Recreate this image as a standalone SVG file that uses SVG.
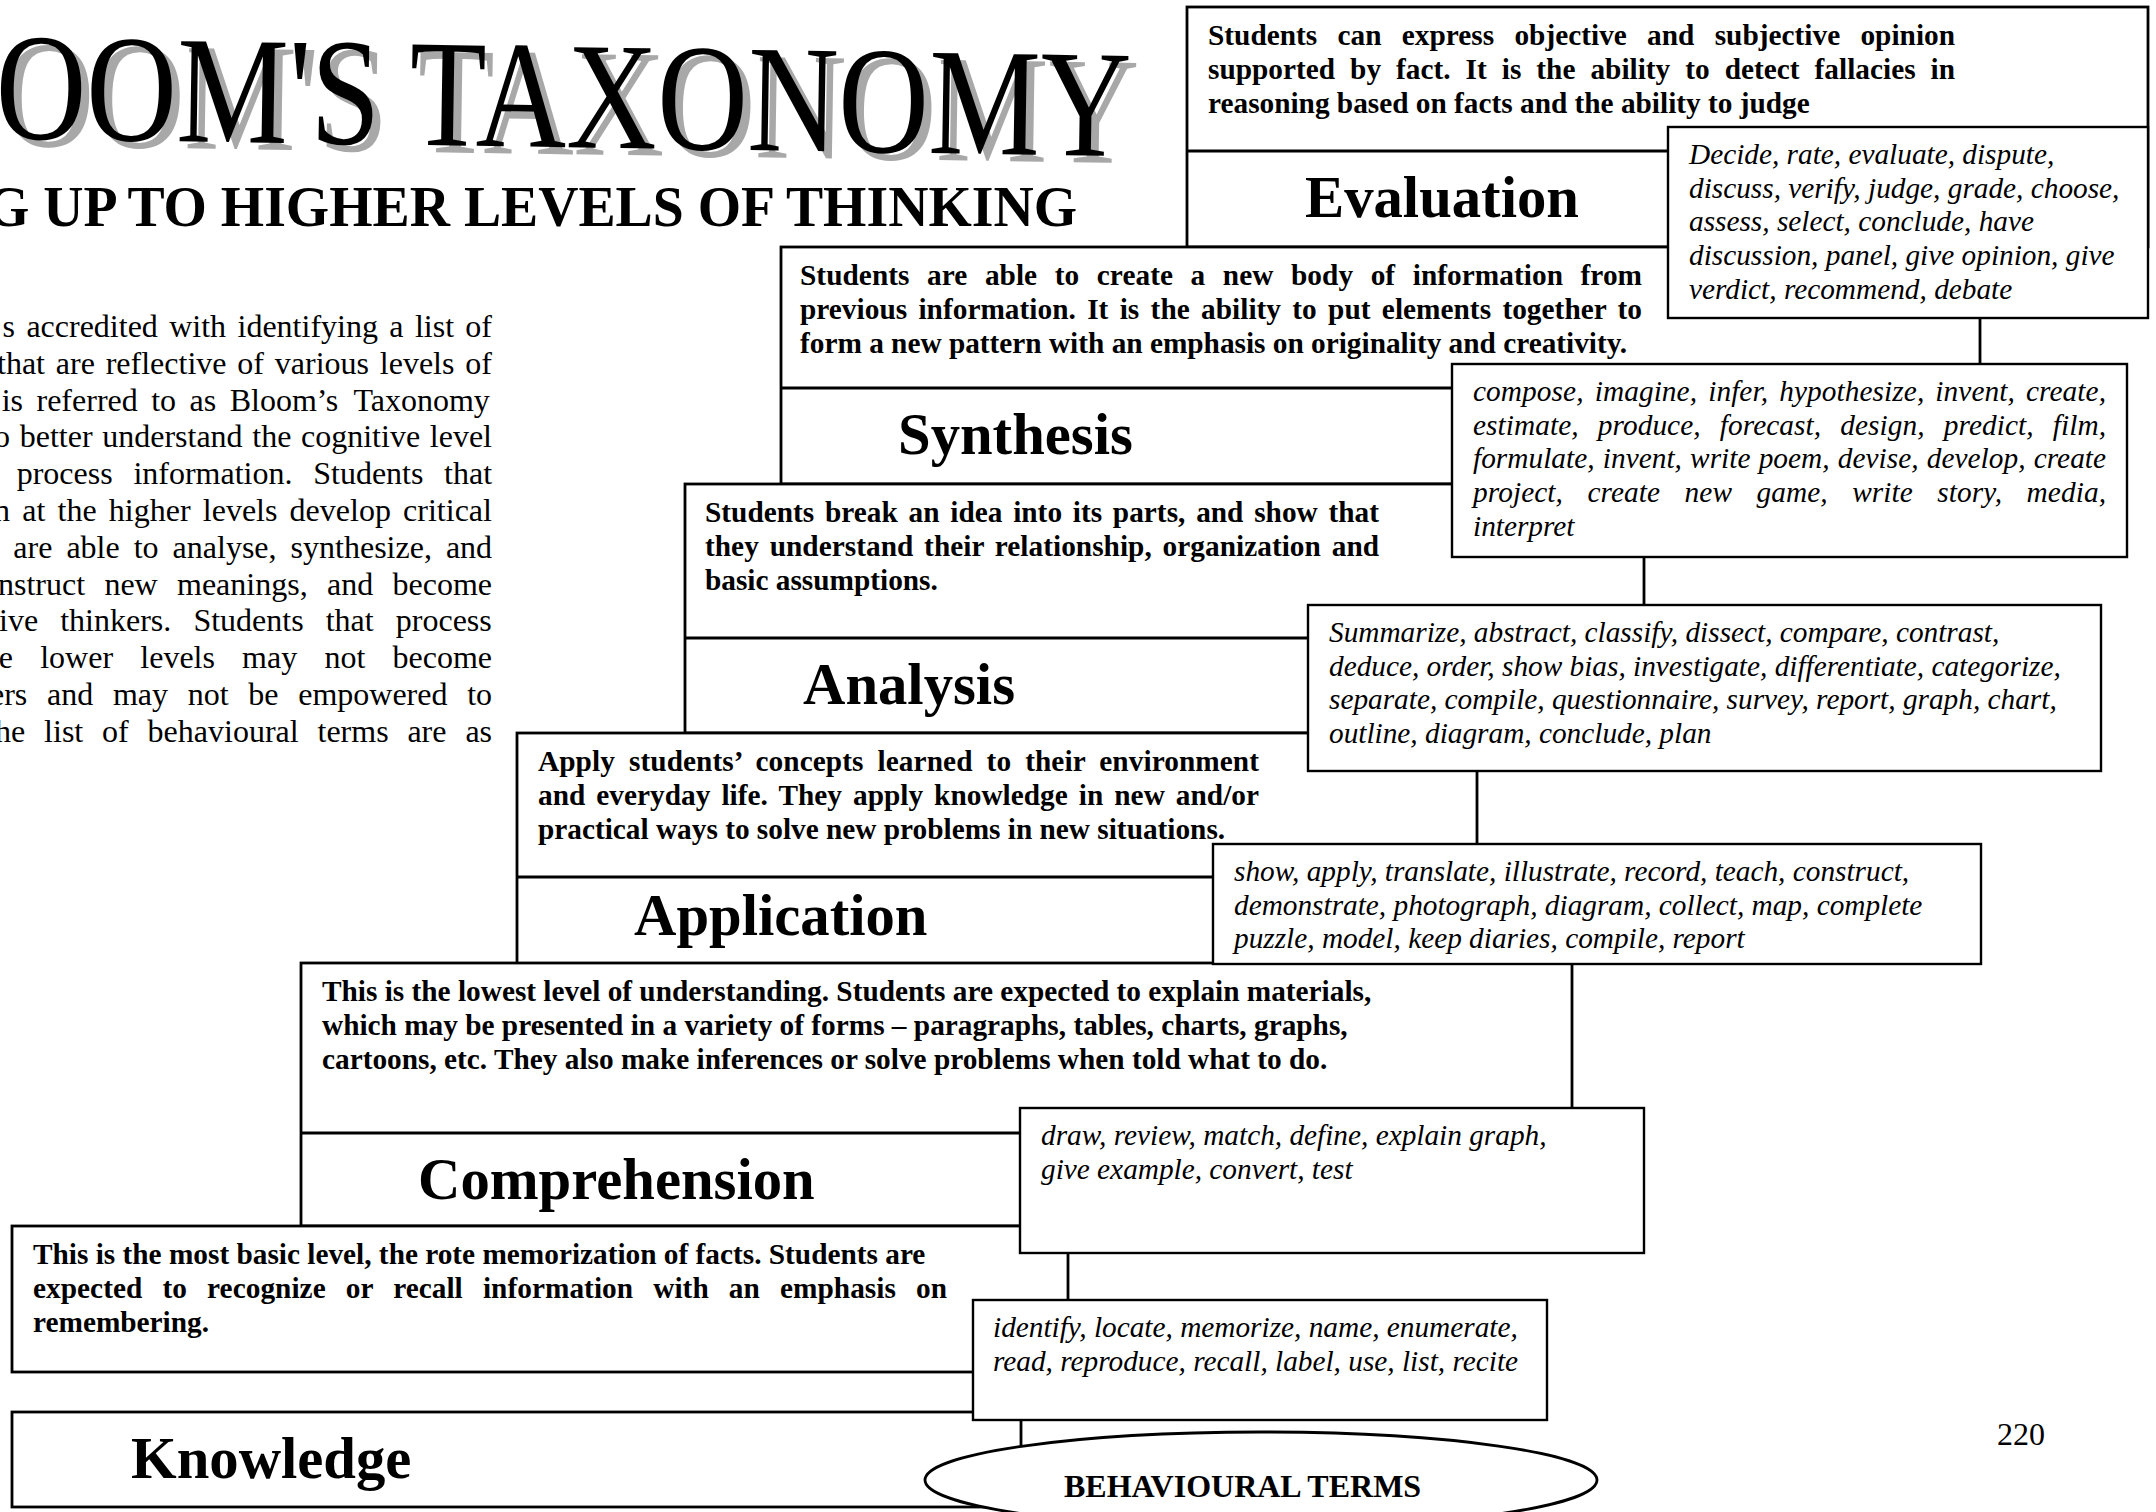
<svg xmlns="http://www.w3.org/2000/svg" width="2156" height="1512" viewBox="0 0 2156 1512">
<style>
text { font-family: "Liberation Serif", "Times New Roman", serif; fill: #000; }
.box { fill: #fff; stroke: #000; stroke-width: 2.8; }
.vbox { fill: #fff; stroke: #000; stroke-width: 2.4; }
.div { stroke: #000; stroke-width: 2.8; }
.conn { stroke: #000; stroke-width: 2; fill: none; }
.desc { font-weight: bold; font-size: 29.3px; }
.lbl { font-weight: bold; font-size: 58.7px; }
.verb { font-style: italic; font-size: 29.3px; }
.intro { font-size: 32px; }
.wa { font-size: 153px; }
.wash { fill: #a8a8a8; }
.sub { font-weight: bold; font-size: 56px; }
.oval { font-weight: bold; font-size: 32px; }
.pg { font-size: 32px; }
</style>

<g id="title">
  <g transform="rotate(0.9 550 145)">
    <text class="wa wash" x="3" y="154" textLength="1135" lengthAdjust="spacingAndGlyphs">OOM'S TAXONOMY</text>
    <text class="wa" x="-5" y="147" textLength="1135" lengthAdjust="spacingAndGlyphs">OOM'S TAXONOMY</text>
  </g>
  <text class="sub" x="-14" y="226" textLength="1091" lengthAdjust="spacingAndGlyphs">G UP TO HIGHER LEVELS OF THINKING</text>
</g>

<g id="intro" class="intro">
  <text y="337"><tspan x="2.6">s</tspan> <tspan x="26.4">accredited</tspan> <tspan x="169.2">with</tspan> <tspan x="237.5">identifying</tspan> <tspan x="389.3">a</tspan> <tspan x="414.9">list</tspan> <tspan x="465.3">of</tspan></text>
  <text y="374"><tspan x="-3">that</tspan> <tspan x="55.8">are</tspan> <tspan x="105.7">reflective</tspan> <tspan x="237.3">of</tspan> <tspan x="274.8">various</tspan> <tspan x="379.8">levels</tspan> <tspan x="465.2">of</tspan></text>
  <text y="411"><tspan x="1.7">is</tspan> <tspan x="36.5">referred</tspan> <tspan x="151.2">to</tspan> <tspan x="189.6">as</tspan> <tspan x="229.7">Bloom’s</tspan> <tspan x="353.4">Taxonomy</tspan></text>
  <text y="447"><tspan x="-6">o</tspan> <tspan x="19.7">better</tspan> <tspan x="102.2">understand</tspan> <tspan x="252.3">the</tspan> <tspan x="301">cognitive</tspan> <tspan x="429.8">level</tspan></text>
  <text y="484"><tspan x="16.7">process</tspan> <tspan x="133.4">information.</tspan> <tspan x="313.2">Students</tspan> <tspan x="444.1">that</tspan></text>
  <text y="521"><tspan x="-6">n</tspan> <tspan x="22.2">at</tspan> <tspan x="57.5">the</tspan> <tspan x="108.8">higher</tspan> <tspan x="202.8">levels</tspan> <tspan x="289.6">develop</tspan> <tspan x="403.1">critical</tspan></text>
  <text y="558"><tspan x="13.3">are</tspan> <tspan x="66.4">able</tspan> <tspan x="133.7">to</tspan> <tspan x="172.6">analyse,</tspan> <tspan x="290.6">synthesize,</tspan> <tspan x="445.9">and</tspan></text>
  <text y="595"><tspan x="-2">nstruct</tspan> <tspan x="104.4">new</tspan> <tspan x="177">meanings,</tspan> <tspan x="327">and</tspan> <tspan x="392.5">become</tspan></text>
  <text y="631"><tspan x="-1">ive</tspan> <tspan x="60.2">thinkers.</tspan> <tspan x="193.4">Students</tspan> <tspan x="325.7">that</tspan> <tspan x="395.8">process</tspan></text>
  <text y="668"><tspan x="-1.2">e</tspan> <tspan x="40.2">lower</tspan> <tspan x="140.3">levels</tspan> <tspan x="242.1">may</tspan> <tspan x="324.4">not</tspan> <tspan x="392.5">become</tspan></text>
  <text y="705"><tspan x="-10">ers</tspan> <tspan x="47">and</tspan> <tspan x="112.9">may</tspan> <tspan x="187.7">not</tspan> <tspan x="248.3">be</tspan> <tspan x="298.2">empowered</tspan> <tspan x="467.2">to</tspan></text>
  <text y="742"><tspan x="-5">he</tspan> <tspan x="44.1">list</tspan> <tspan x="102">of</tspan> <tspan x="147.6">behavioural</tspan> <tspan x="317.5">terms</tspan> <tspan x="407.4">are</tspan> <tspan x="465.4">as</tspan></text>
</g>

<g id="evaluation">
  <rect class="box" x="1187" y="7" width="961" height="240"/>
  <line class="div" x1="1187" y1="151" x2="2148" y2="151"/>
  <text class="desc" x="1208" y="45" style="word-spacing:12.9px" textLength="747" lengthAdjust="spacing">Students can express objective and subjective opinion</text>
  <text class="desc" x="1208" y="79" style="word-spacing:7.65px" textLength="747" lengthAdjust="spacing">supported by fact. It is the ability to detect fallacies in</text>
  <text class="desc" x="1208" y="113">reasoning based on facts and the ability to judge</text>
  <text class="lbl" x="1305" y="217">Evaluation</text>
</g>

<g id="synthesis">
  <rect class="box" x="781" y="247" width="1199" height="237"/>
  <line class="div" x1="781" y1="388" x2="1980" y2="388"/>
  <text class="desc" x="800" y="285" style="word-spacing:10.2px" textLength="842" lengthAdjust="spacing">Students are able to create a new body of information from</text>
  <text class="desc" x="800" y="319" style="word-spacing:3.96px" textLength="842" lengthAdjust="spacing">previous information. It is the ability to put elements together to</text>
  <text class="desc" x="800" y="353">form a new pattern with an emphasis on originality and creativity.</text>
  <text class="lbl" x="898" y="454">Synthesis</text>
</g>

<g id="analysis">
  <rect class="box" x="685" y="484" width="959" height="249"/>
  <line class="div" x1="685" y1="638" x2="1644" y2="638"/>
  <text class="desc" x="705" y="522" style="word-spacing:3.37px" textLength="674" lengthAdjust="spacing">Students break an idea into its parts, and show that</text>
  <text class="desc" x="705" y="556" style="word-spacing:3.45px" textLength="674" lengthAdjust="spacing">they understand their relationship, organization and</text>
  <text class="desc" x="705" y="590">basic assumptions.</text>
  <text class="lbl" x="803" y="704">Analysis</text>
</g>

<g id="application">
  <rect class="box" x="517" y="733" width="960" height="231"/>
  <line class="div" x1="517" y1="877" x2="1477" y2="877"/>
  <text class="desc" x="538" y="771" style="word-spacing:6.65px" textLength="721" lengthAdjust="spacing">Apply students’ concepts learned to their environment</text>
  <text class="desc" x="538" y="805" style="word-spacing:3.66px" textLength="721" lengthAdjust="spacing">and everyday life. They apply knowledge in new and/or</text>
  <text class="desc" x="538" y="839">practical ways to solve new problems in new situations.</text>
  <text class="lbl" x="634" y="935">Application</text>
</g>

<g id="comprehension">
  <rect class="box" x="301" y="963" width="1271" height="263"/>
  <line class="div" x1="301" y1="1133" x2="1572" y2="1133"/>
  <text class="desc" x="322" y="1001">This is the lowest level of understanding. Students are expected to explain materials,</text>
  <text class="desc" x="322" y="1035">which may be presented in a variety of forms – paragraphs, tables, charts, graphs,</text>
  <text class="desc" x="322" y="1069">cartoons, etc. They also make inferences or solve problems when told what to do.</text>
  <text class="lbl" x="418" y="1199">Comprehension</text>
</g>

<g id="knowledge">
  <rect class="box" x="12" y="1226" width="1056" height="146"/>
  <text class="desc" x="33" y="1264">This is the most basic level, the rote memorization of facts. Students are</text>
  <text class="desc" x="33" y="1298" style="word-spacing:12.76px" textLength="914" lengthAdjust="spacing">expected to recognize or recall information with an emphasis on</text>
  <text class="desc" x="33" y="1332">remembering.</text>
  <rect class="box" x="12" y="1412" width="1009" height="95"/>
  <text class="lbl" x="131" y="1478">Knowledge</text>
</g>

<g id="connectors">
  <line class="conn" x1="1980" y1="318" x2="1980" y2="364"/>
  <line class="conn" x1="1644" y1="557" x2="1644" y2="605"/>
  <line class="conn" x1="1477" y1="771" x2="1477" y2="844"/>
  <line class="conn" x1="1572" y1="963" x2="1572" y2="1108"/>
  <line class="conn" x1="1068" y1="1253" x2="1068" y2="1300"/>
  <line class="conn" x1="1021" y1="1420" x2="1021" y2="1447"/>
</g>

<g id="evaluation-terms">
  <rect class="vbox" x="1668" y="127" width="480" height="191"/>
  <text class="verb" x="1689" y="164">Decide, rate, evaluate, dispute,</text>
  <text class="verb" x="1689" y="197.5">discuss, verify, judge, grade, choose,</text>
  <text class="verb" x="1689" y="231">assess, select, conclude, have</text>
  <text class="verb" x="1689" y="265">discussion, panel, give opinion, give</text>
  <text class="verb" x="1689" y="298.5">verdict, recommend, debate</text>
</g>

<g id="synthesis-terms">
  <rect class="vbox" x="1452" y="364" width="675" height="193"/>
  <text class="verb" x="1473" y="401" style="word-spacing:3.59px" textLength="633" lengthAdjust="spacing">compose, imagine, infer, hypothesize, invent, create,</text>
  <text class="verb" x="1473" y="435" style="word-spacing:11.73px" textLength="633" lengthAdjust="spacing">estimate, produce, forecast, design, predict, film,</text>
  <text class="verb" x="1473" y="468" style="word-spacing:0.82px" textLength="633" lengthAdjust="spacing">formulate, invent, write poem, devise, develop, create</text>
  <text class="verb" x="1473" y="502" style="word-spacing:17px" textLength="633" lengthAdjust="spacing">project, create new game, write story, media,</text>
  <text class="verb" x="1473" y="536">interpret</text>
</g>

<g id="analysis-terms">
  <rect class="vbox" x="1308" y="605" width="793" height="166"/>
  <text class="verb" x="1329" y="642">Summarize, abstract, classify, dissect, compare, contrast,</text>
  <text class="verb" x="1329" y="676">deduce, order, show bias, investigate, differentiate, categorize,</text>
  <text class="verb" x="1329" y="709">separate, compile, questionnaire, survey, report, graph, chart,</text>
  <text class="verb" x="1329" y="743">outline, diagram, conclude, plan</text>
</g>

<g id="application-terms">
  <rect class="vbox" x="1213" y="844" width="768" height="120"/>
  <text class="verb" x="1234" y="881">show, apply, translate, illustrate, record, teach, construct,</text>
  <text class="verb" x="1234" y="915">demonstrate, photograph, diagram, collect, map, complete</text>
  <text class="verb" x="1234" y="948">puzzle, model, keep diaries, compile, report</text>
</g>

<g id="comprehension-terms">
  <rect class="vbox" x="1020" y="1108" width="624" height="145"/>
  <text class="verb" x="1041" y="1145">draw, review, match, define, explain graph,</text>
  <text class="verb" x="1041" y="1179">give example, convert, test</text>
</g>

<g id="knowledge-terms">
  <rect class="vbox" x="973" y="1300" width="574" height="120"/>
  <text class="verb" x="993" y="1337">identify, locate, memorize, name, enumerate,</text>
  <text class="verb" x="993" y="1371">read, reproduce, recall, label, use, list, recite</text>
</g>

<g id="behavioural-terms">
  <ellipse class="box" cx="1261" cy="1480" rx="336" ry="48"/>
  <text class="oval" x="1064" y="1497">BEHAVIOURAL TERMS</text>
</g>

<g id="page-number">
  <text class="pg" x="1997" y="1445">220</text>
</g>
</svg>
